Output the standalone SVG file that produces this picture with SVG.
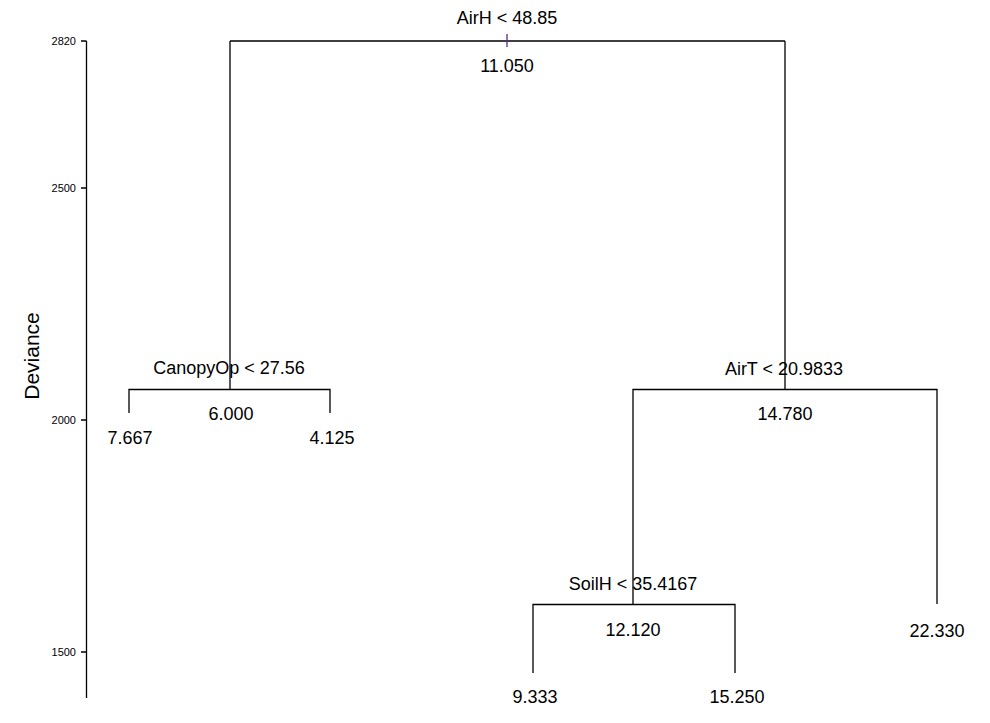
<svg xmlns="http://www.w3.org/2000/svg" width="990" height="723" viewBox="0 0 990 723">
<style>
.ln{stroke:#000;stroke-width:1.3;fill:none}
.t{font-family:"Liberation Sans",Arial,sans-serif;font-size:18px;fill:#000;text-anchor:middle}
.ax{font-family:"Liberation Sans",Arial,sans-serif;font-size:11px;fill:#000;text-anchor:end}
</style>
<rect width="990" height="723" fill="#fff"/>
<g id="axis">
<path class="ln" d="M86.5 41V698M81 41H86.5M81 188H86.5M81 420H86.5M81 652H86.5"/>
<text class="ax" x="76" y="45">2820</text>
<text class="ax" x="76" y="192">2500</text>
<text class="ax" x="76" y="424">2000</text>
<text class="ax" x="76" y="656">1500</text>
<text class="t" style="font-size:21px" transform="translate(39,356) rotate(-90)">Deviance</text>
</g>
<g id="connectors">
<path class="ln" d="M230 41H785M230 41V389.5M785 41V389.5"/>
<path class="ln" d="M507 34V47" style="stroke:#5b2a86"/>
<path class="ln" d="M129 413V389.5H330V413"/>
<path class="ln" d="M633 604.5V389.5H937V604"/>
<path class="ln" d="M533 673V604.5H735V673"/>
</g>
<g id="n_root"><text class="t" x="507" y="24">AirH &lt; 48.85</text><text class="t" x="507" y="72">11.050</text></g>
<g id="n_canopy"><text class="t" x="229" y="374">CanopyOp &lt; 27.56</text><text class="t" x="231" y="420">6.000</text></g>
<g id="n_airt"><text class="t" x="784" y="375">AirT &lt; 20.9833</text><text class="t" x="785" y="420">14.780</text></g>
<g id="n_soilh"><text class="t" x="633" y="590">SoilH &lt; 35.4167</text><text class="t" x="633" y="636">12.120</text></g>
<g id="leaf1"><text class="t" x="130" y="444">7.667</text></g>
<g id="leaf2"><text class="t" x="332" y="444">4.125</text></g>
<g id="leaf3"><text class="t" x="535" y="703">9.333</text></g>
<g id="leaf4"><text class="t" x="737" y="703">15.250</text></g>
<g id="leaf5"><text class="t" x="937" y="637">22.330</text></g>
</svg>
